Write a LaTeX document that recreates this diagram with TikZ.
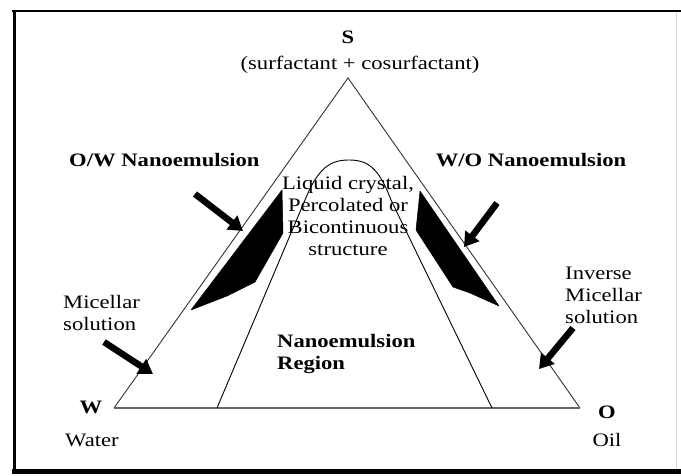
\documentclass[tikz,border=0pt]{standalone}
\usepackage{fontspec}
\setmainfont{Liberation Serif}
\usetikzlibrary{arrows.meta}
\tikzset{
  lbl/.style={font=\fontsize{19}{22}\selectfont, inner sep=0pt, xscale=1.19, text=black},
  blbl/.style={lbl, font=\fontsize{19}{22}\selectfont\bfseries},
  edge/.style={draw=black!80, line width=0.9pt},
  inner/.style={draw=black, line width=0.9pt},
  band/.style={fill=black, draw=black, line width=0.5pt, line join=round},
  fatarrow/.style={draw=black, line width=6.5pt, -{Triangle[length=14pt,width=17pt]}},
  frameline/.style={draw=black}
}
\begin{document}
\begin{tikzpicture}[x=1pt,y=-1pt]
\useasboundingbox (0,0) rectangle (681,475);
\fill[white] (0,0) rectangle (681,475);
% frame
\draw[frameline, line width=3pt] (14,10) -- (14,473);
\draw[frameline, line width=2pt] (12,11) -- (681,11);
\draw[frameline, line width=5pt] (12,471.5) -- (681,471.5);
\draw[draw=black!15, line width=1pt] (676,12) -- (676,469);
% triangle vertices
\coordinate (W) at (114,408);
\coordinate (S) at (348,78);
\coordinate (O) at (580,408);
\draw[edge] (W) -- (S) -- (O);
\draw[draw=black!60, line width=1.4pt] (W) -- (O);
% inner curve
\coordinate (cl) at (217,408);
\coordinate (cr) at (492,408);
\draw[inner] (cl) -- (305,200) .. controls (318,168) and (330,160) .. (349,160)
  .. controls (368,160) and (379,168) .. (391,200) -- (cr);
% black bands
\fill[band] (282,190) -- (283,233) -- (255,282) -- (227,296) -- (191,310) -- cycle;
\fill[band] (420,191) -- (416,230) -- (453,287) -- (470,293) -- (499,306) -- cycle;
% arrows
\coordinate (a1s) at (195,194); \coordinate (a1e) at (243,231);
\coordinate (a2s) at (497,203); \coordinate (a2e) at (464,247);
\coordinate (a3s) at (104,342); \coordinate (a3e) at (153,374);
\coordinate (a4s) at (573,328); \coordinate (a4e) at (539,369);
\draw[fatarrow] (a1s) -- (a1e);
\draw[fatarrow] (a2s) -- (a2e);
\draw[fatarrow] (a3s) -- (a3e);
\draw[fatarrow] (a4s) -- (a4e);
% labels
\node[blbl, anchor=base] (tS) at (348,43) {S};
\node[lbl, anchor=base] (tSurf) at (360,69) {(surfactant + cosurfactant)};
\node[blbl, anchor=base west] (tOW) at (69,166) {O/W Nanoemulsion};
\node[blbl, anchor=base] (tWO) at (531,166) {W/O Nanoemulsion};
\node[lbl, anchor=base, align=center] (tLC) at (348,255) {Liquid crystal,\\Percolated or\\Bicontinuous\\structure};
\node[lbl, anchor=base west, align=left] (tMic) at (63,330) {Micellar\\solution};
\node[lbl, anchor=base west, align=left] (tInv) at (565,323) {Inverse\\Micellar\\solution};
\node[blbl, anchor=base west, align=left] (tReg) at (277,369) {Nanoemulsion\\Region};
\node[blbl, anchor=base] (tW) at (91,413) {W};
\node[lbl, anchor=base west] (tWater) at (65,446) {Water};
\node[blbl, anchor=base] (tO) at (607,418) {O};
\node[lbl, anchor=base] (tOil) at (607,446) {Oil};
\end{tikzpicture}
\end{document}
